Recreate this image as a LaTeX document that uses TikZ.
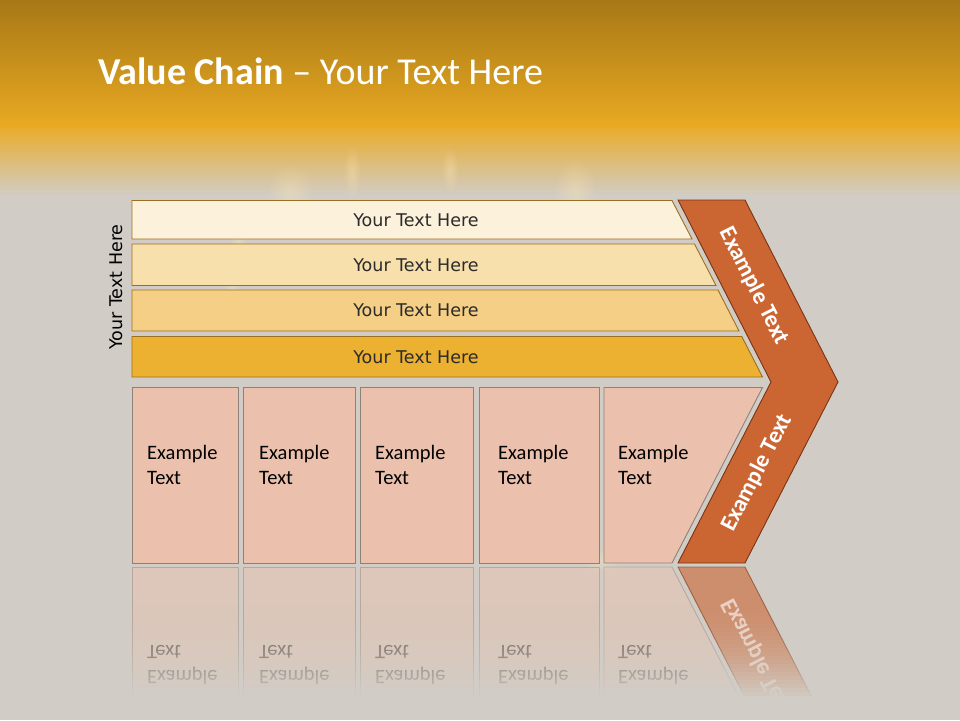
\documentclass[tikz,border=0pt]{standalone}
\usepackage{fontspec}
\setmainfont{Carlito}
\newfontfamily\verdanalike{DejaVu Sans}
\usetikzlibrary{fadings}
\tikzfading[name=softglow, inner color=transparent!0, outer color=transparent!100]
\definecolor{topdark}{HTML}{A67816}
\definecolor{topgold}{HTML}{EAAA22}
\definecolor{topfade}{HTML}{E2C690}
\definecolor{slidegray}{HTML}{D1CDC6}
\definecolor{barA}{HTML}{FCF1DB}
\definecolor{barB}{HTML}{F8E0AD}
\definecolor{barC}{HTML}{F4CF85}
\definecolor{barD}{HTML}{EDB132}
\definecolor{barline}{HTML}{9C6F1E}
\definecolor{textdark}{HTML}{2B2B2B}
\definecolor{cellfill}{HTML}{EBC1AD}
\definecolor{cellline}{HTML}{8C8279}
\definecolor{chevfill}{HTML}{CB6532}
\definecolor{chevline}{HTML}{7A3414}
\definecolor{flame}{HTML}{FFE9B8}

\begin{document}
\begin{tikzpicture}[x=1pt,y=-1pt,
    bar/.style={draw=barline,line width=0.9pt},
    barlabel/.style={font=\verdanalike\fontsize{17.5}{20}\selectfont,text=textdark},
    cell/.style={draw=cellline,fill=cellfill,line width=0.9pt},
    celllabel/.style={font=\fontsize{20.5}{25.5}\selectfont,align=left,anchor=west,inner sep=0pt},
    arrowpart/.style={draw=chevline,fill=chevfill,line width=0.9pt},
    chevlabel/.style={font=\bfseries\fontsize{23.5}{26}\selectfont,text=white},
    glow/.style={fill=flame,path fading=softglow,fill opacity=0.35}]
\useasboundingbox (0,0) rectangle (960,720);

% background of the slide
\fill[slidegray] (0,0) rectangle (960,720);
\shade[top color=topdark,bottom color=topgold] (0,0) rectangle (960,128);
\shade[top color=topgold!90!topfade,middle color=topfade,bottom color=slidegray] (0,128) rectangle (960,196);
% faint flames behind the chain
\foreach \fx/\fy/\fw/\fh in {290/192/24/30, 352/172/9/26, 575/190/22/32, 450/170/9/24, 238/242/8/14, 232/288/8/12, 600/560/22/12}{
  \fill[glow] (\fx,\fy) ellipse ({\fw} and {\fh});
}

\node[anchor=base west,inner sep=0pt,text=white,font=\fontsize{38}{44}\selectfont] (title) at (98,84)
  {\textbf{Value Chain} -- Your Text Here};

% the four bars
\foreach \yt/\yb/\xt/\xb/\col [count=\i] in {200.5/239/672/692/barA,
    244/285.5/694.5/716/barB, 290/331/718/739/barC, 336.5/377/741.8/762.5/barD}{
  \draw[bar,fill=\col] (132,\yt) -- (\xt,\yt) -- (\xb,\yb) -- (132,\yb) -- cycle;
  \node[barlabel] (bar\i) at (416,{(\yt+\yb)/2}) {Your Text Here};
}
\node[barlabel,text=black,rotate=90] (side) at (116,287) {Your Text Here};

% the chevron
\draw[arrowpart] (678,200) -- (745,200) -- (838,382) -- (745,563) -- (678,563) -- (771,382) -- cycle;
\node[chevlabel,rotate=-62.9] (chevtop) at (754,286) {Example Text};
\node[chevlabel,rotate=62.9] (chevbot) at (757,473) {Example Text};

% the cells
\foreach \xl/\xr/\xt [count=\i] in {132/238/147, 243/355.5/259, 360/473/375, 479/599/498}{
  \draw[cell] (\xl,387.5) rectangle (\xr,563);
  \node[celllabel] (cell\i) at (\xt,465) {Example\\Text};
}
\draw[cell] (604,387.5) -- (762.5,387.5) -- (672,563) -- (604,563) -- cycle;
\node[celllabel] (cell5) at (618,465) {Example\\Text};

% reflection
\begin{scope}
  \clip (100,566) rectangle (860,702);
  \begin{scope}[shift={(0,1130)},yscale=-1,transform shape,opacity=0.45]
    \foreach \xl/\xr/\xt [count=\i] in {132/238/147, 243/355.5/259, 360/473/375, 479/599/498}{
      \draw[cell] (\xl,387.5) rectangle (\xr,563);
      \node[celllabel] (refl\i) at (\xt,465) {Example\\Text};
    }
    \draw[cell] (604,387.5) -- (762.5,387.5) -- (672,563) -- (604,563) -- cycle;
    \node[celllabel] (refl5) at (618,465) {Example\\Text};
  \end{scope}
  \begin{scope}[shift={(0,1130)},yscale=-1,transform shape,opacity=0.6]
    \draw[arrowpart] (678,563) -- (745,563) -- (838,382) -- (771,382) -- cycle;
    \node[chevlabel,rotate=62.9] (reflchev) at (757,473) {Example Text};
  \end{scope}
  \foreach \k in {0,...,24}{
    \fill[slidegray,fill opacity={((\k+1)/25)^2}] (100,600+4*\k) rectangle (860,604+4*\k);
  }
\end{scope}
\fill[slidegray] (100,698) rectangle (860,720);
\end{tikzpicture}
\end{document}
